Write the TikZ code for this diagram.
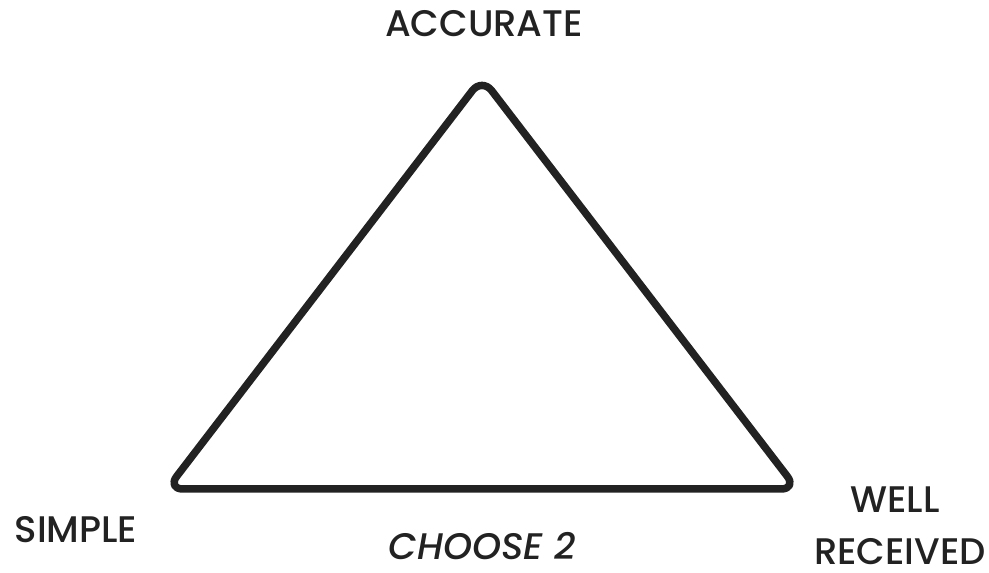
\documentclass[tikz,border=0pt]{standalone}
\usepackage{fontspec}
\setmainfont{Poppins}[UprightFont=* Medium, ItalicFont=* Medium Italic]
\definecolor{ink}{HTML}{222222}
\begin{document}
\begin{tikzpicture}[x=1pt,y=1pt,
  lbl/.style={text=ink,font=\fontsize{37}{37}\selectfont,inner sep=0pt,anchor=base}]
\useasboundingbox (0,0) rectangle (989,573);
\coordinate (A) at (482,495);
\coordinate (B) at (167,84);
\coordinate (C) at (797,84);
\draw[ink,line width=7.5pt,rounded corners=16pt,line join=round] (A) -- (C) -- (B) -- cycle;
\node[lbl] (acc) at (484,536) {ACCURATE};
\node[lbl] (sim) at (76,30) {SIMPLE};
\node[lbl,font=\fontsize{37}{37}\selectfont\itshape] (ch) at (482,13) {CHOOSE 2};
\node[lbl] (well) at (895,60) {WELL};
\node[lbl] (rec) at (900,8) {RECEIVED};
\end{tikzpicture}
\end{document}
